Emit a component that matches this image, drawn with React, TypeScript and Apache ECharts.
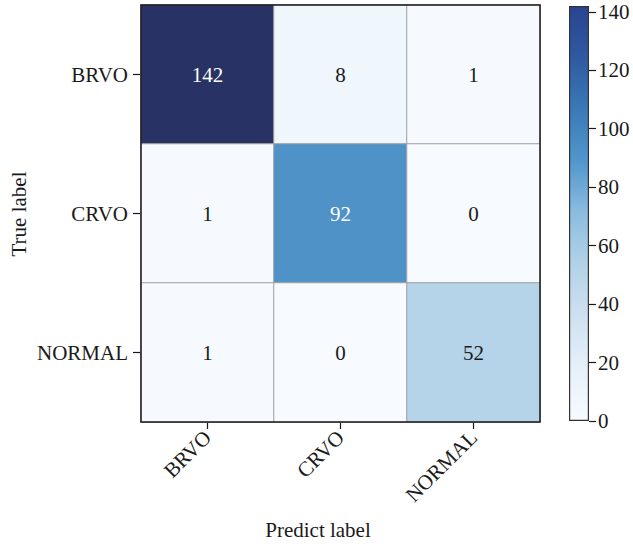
import React, { useEffect, useRef } from "react";
import * as echarts from "echarts";

const predictLabels = ["BRVO", "CRVO", "NORMAL"];
const trueLabels = ["BRVO", "CRVO", "NORMAL"];
const brvoRow = [142, 8, 1];
const crvoRow = [1, 92, 0];
const normalRow = [1, 0, 52];
const colorbarTicks = [0, 20, 40, 60, 80, 100, 120, 140];
const colorMin = 0;
const colorMax = 142;

const cellColors = [
  "#f7fbff", "#e6f0f9", "#cfe1f0", "#b3d2e8", "#8cbde0",
  "#5297cc", "#3a7ab8", "#2f559a", "#283264",
];
const barColors = [
  "#f7fbff", "#e6f0f9", "#cfe1f0", "#b3d2e8", "#8cbde0",
  "#5297cc", "#3a7ab8", "#2f5aa2", "#2a4490",
];

const FONT = "'Liberation Serif', 'DejaVu Serif', serif";
const TXT = "#1a1a1a";
const FS = 21;

export default function App() {
  const ref = useRef<HTMLDivElement>(null);
  useEffect(() => {
    document.body.style.margin = "0";
    if (!ref.current) return;
    const chart = echarts.init(ref.current, null, { renderer: "svg" });
    const rows = [brvoRow, crvoRow, normalRow];
    const data: any[] = [];
    rows.forEach((row, yi) =>
      row.forEach((v, xi) =>
        data.push({
          value: [xi, yi, v],
          label: { color: v > colorMax / 2 ? "#ffffff" : TXT },
        })
      )
    );
    const G = { left: 141, top: 5, width: 399, height: 417 };
    const CB = { left: 569, top: 6, width: 20, height: 415 };
    const stops = barColors
      .map((c, i) => ({ offset: 1 - i / (barColors.length - 1), color: c }))
      .reverse();
    chart.setOption({
      animation: false,
      textStyle: { fontFamily: FONT },
      grid: [
        { ...G, containLabel: false },
        { ...CB, containLabel: false },
      ],
      xAxis: [
        {
          type: "category",
          gridIndex: 0,
          data: predictLabels,
          axisLine: { show: false },
          axisTick: { show: true, alignWithLabel: true, length: 7, lineStyle: { color: TXT, width: 1.2 } },
          axisLabel: { rotate: 45, fontSize: FS, color: TXT, fontFamily: FONT, margin: 12 },
          splitLine: { show: false },
        },
        {
          type: "category",
          gridIndex: 1,
          data: ["cb"],
          show: false,
        },
      ],
      yAxis: [
        {
          type: "category",
          gridIndex: 0,
          data: trueLabels,
          inverse: true,
          axisLine: { show: false },
          axisTick: { show: true, alignWithLabel: true, length: 8, lineStyle: { color: TXT, width: 1.2 } },
          axisLabel: { fontSize: FS, color: TXT, fontFamily: FONT, margin: 13 },
        },
        {
          type: "value",
          gridIndex: 1,
          position: "right",
          min: colorMin,
          max: colorMax,
          axisLine: { show: false },
          splitLine: { show: false },
          axisTick: {
            show: true,
            length: 7,
            customValues: colorbarTicks,
            lineStyle: { color: TXT, width: 1.2 },
          },
          axisLabel: {
            fontSize: FS,
            color: TXT,
            fontFamily: FONT,
            margin: 9,
            customValues: colorbarTicks,
          },
        },
      ],
      visualMap: {
        show: false,
        seriesIndex: 0,
        min: colorMin,
        max: colorMax,
        inRange: { color: cellColors },
      },
      series: [
        {
          type: "heatmap",
          xAxisIndex: 0,
          yAxisIndex: 0,
          data,
          itemStyle: { borderColor: "#a0a0a0", borderWidth: 1 },
          label: { show: true, fontSize: FS, fontFamily: FONT },
          emphasis: { disabled: true },
        },
        {
          type: "bar",
          xAxisIndex: 1,
          yAxisIndex: 1,
          data: [colorMax],
          barWidth: "100%",
          itemStyle: {
            color: new echarts.graphic.LinearGradient(0, 0, 0, 1, stops),
            borderColor: "#333333",
            borderWidth: 1.2,
          },
          silent: true,
        },
      ],
      graphic: [
        {
          type: "rect",
          z: 100,
          shape: { x: G.left, y: G.top, width: G.width, height: G.height },
          style: { fill: "none", stroke: "#1a1a1a", lineWidth: 1.5 },
        },
        {
          type: "text",
          x: 318,
          y: 530,
          style: {
            text: "Predict label",
            font: `${FS}px ${FONT}`,
            fill: TXT,
            align: "center",
            verticalAlign: "middle",
          },
        },
        {
          type: "text",
          x: 19,
          y: 214,
          rotation: Math.PI / 2,
          style: {
            text: "True label",
            font: `${FS}px ${FONT}`,
            fill: TXT,
            align: "center",
            verticalAlign: "middle",
          },
        },
      ],
    });
    return () => chart.dispose();
  }, []);
  return <div ref={ref} style={{ width: 633, height: 544 }} />;
}
